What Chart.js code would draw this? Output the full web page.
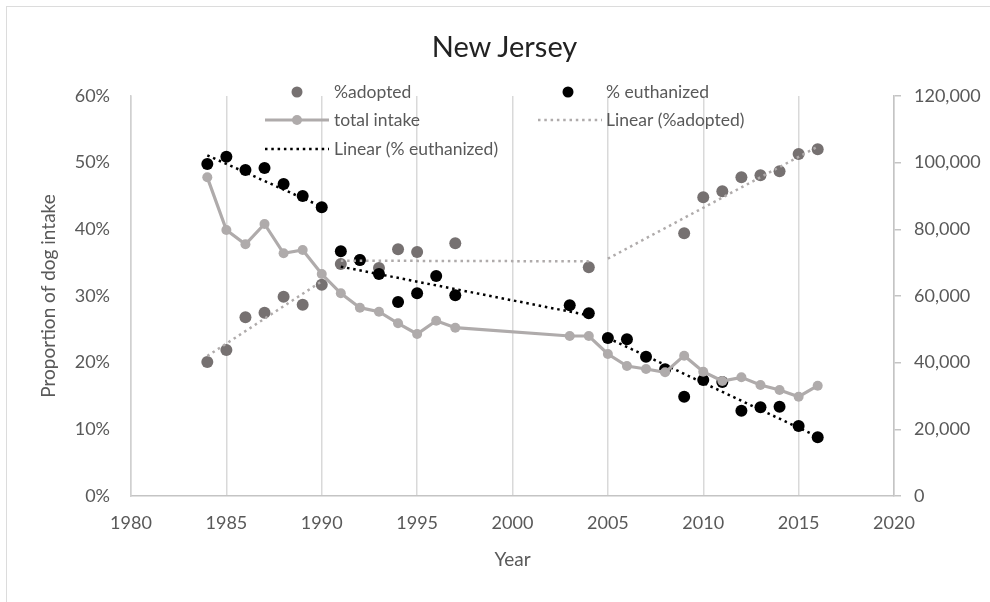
<!DOCTYPE html>
<html>
<head>
<meta charset="utf-8">
<script src="https://cdn.jsdelivr.net/npm/chart.js@4"></script>
<style>
    body { margin: 0; width: 990px; height: 602px; overflow: hidden; background: #fff; position: relative; }
    #marco { position: absolute; left: 6px; top: 6px; width: 1010px; height: 620px; border: 1.5px solid #dcdcdc; }
    #titulo { position: absolute; left: 0; top: 28px; width: 1009px; text-align: center;
              font-family: Lato, 'Open Sans', sans-serif; font-size: 29px; color: #222; }
    #grafico { position: absolute; left: 0; top: 0; }
</style>
</head>
<body>
<div id="marco"></div>
<canvas id="grafico" width="990" height="602"></canvas>
<div id="titulo">New Jersey</div>
<script>
// Años y valores
const aniosAdopcion = [1984, 1985, 1986, 1987, 1988, 1989, 1990, 1991, 1992, 1993, 1994, 1995, 1997,
    2004, 2009, 2010, 2011, 2012, 2013, 2014, 2015, 2016];
const pctAdoptado = [20.1, 21.9, 26.8, 27.5, 29.9, 28.7, 31.7, 34.8, 35.4, 34.2, 37.0, 36.6, 37.9,
    34.3, 39.4, 44.8, 45.7, 47.8, 48.1, 48.7, 51.3, 52.0];

const anios = [1984, 1985, 1986, 1987, 1988, 1989, 1990, 1991, 1992, 1993, 1994, 1995, 1996, 1997,
    2003, 2004, 2005, 2006, 2007, 2008, 2009, 2010, 2011, 2012, 2013, 2014, 2015, 2016];
const pctEutanasia = [49.8, 50.9, 48.9, 49.2, 46.8, 45.0, 43.3, 36.7, 35.4, 33.3, 29.1, 30.4, 33.0, 30.1,
    28.6, 27.4, 23.7, 23.5, 20.9, 19.0, 14.9, 17.4, 17.1, 12.8, 13.3, 13.4, 10.5, 8.8];
const ingresoTotal = [95600, 79800, 75500, 81600, 72800, 73800, 66600, 60800, 56500, 55300, 51800, 48600, 52600, 50500,
    48000, 48000, 42600, 39000, 38100, 37100, 42100, 37300, 34500, 35600, 33300, 31800, 29800, 33100];

// Líneas de tendencia (por tramos, como en el original)
const aniosTendencia = [1984, 1990, null, 1991, 2004, null, 2005, 2016];
const tendAdoptado = [21.0, 32.2, null, 35.3, 35.2, null, 35.6, 52.4];
const tendEutanasia = [51.1, 43.4, null, 34.4, 27.1, null, 23.7, 8.9];

const etiquetasX = [1980, 1985, 1990, 1995, 2000, 2005, 2010, 2015, 2020];

const gris = '#767171';
const grisClaro = '#afabab';
const textoEje = '#595959';
const punteado = [2.5, 3.8];

function puntos(xs, ys) {
    return xs.map((x, i) => (x === null ? { x: NaN, y: null } : { x: x, y: ys[i] }));
}

Chart.defaults.font.family = "Lato, 'Open Sans', sans-serif";

// Leyenda dibujada a mano en dos columnas
const leyenda = {
    id: 'leyenda',
    afterDraw(chart) {
        const ctx = chart.ctx;
        ctx.save();
        ctx.font = '17.5px Lato, sans-serif';
        ctx.textBaseline = 'middle';
        const circulo = (x, y, r, c) => {
            ctx.beginPath();
            ctx.arc(x, y, r, 0, Math.PI * 2);
            ctx.fillStyle = c;
            ctx.fill();
        };
        const linea = (x1, x2, y, c, w, dash) => {
            ctx.beginPath();
            ctx.setLineDash(dash);
            ctx.strokeStyle = c;
            ctx.lineWidth = w;
            ctx.moveTo(x1, y);
            ctx.lineTo(x2, y);
            ctx.stroke();
            ctx.setLineDash([]);
        };
        circulo(297, 92, 5.5, gris);
        circulo(568, 92, 5.5, '#000');
        linea(265, 329, 120, grisClaro, 3.2, []);
        circulo(297, 120, 5, grisClaro);
        linea(538, 602, 120, grisClaro, 2.5, punteado);
        linea(265, 329, 149, '#000', 2.5, punteado);
        ctx.fillStyle = textoEje;
        ctx.fillText('%adopted', 334, 92);
        ctx.fillText('% euthanized', 606, 92);
        ctx.fillText('total intake', 334, 120);
        ctx.fillText('Linear (%adopted)', 606, 120);
        ctx.fillText('Linear (% euthanized)', 334, 149);
        ctx.restore();
    }
};

const data = {
    datasets: [{
        label: 'total intake',
        data: puntos(anios, ingresoTotal),
        yAxisID: 'y2',
        showLine: true,
        borderColor: grisClaro,
        backgroundColor: grisClaro,
        borderWidth: 3.2,
        pointRadius: 5,
        pointBorderWidth: 0,
        order: 0
    }, {
        label: 'Linear (%adopted)',
        data: puntos(aniosTendencia, tendAdoptado),
        yAxisID: 'y',
        showLine: true,
        spanGaps: false,
        borderColor: grisClaro,
        borderWidth: 2.5,
        borderDash: punteado,
        pointRadius: 0,
        order: 1
    }, {
        label: 'Linear (% euthanized)',
        data: puntos(aniosTendencia, tendEutanasia),
        yAxisID: 'y',
        showLine: true,
        spanGaps: false,
        borderColor: '#000',
        borderWidth: 2.5,
        borderDash: punteado,
        pointRadius: 0,
        order: 1
    }, {
        label: '% euthanized',
        data: puntos(anios, pctEutanasia),
        yAxisID: 'y',
        backgroundColor: '#000',
        borderWidth: 0,
        pointRadius: 6,
        order: 2
    }, {
        label: '%adopted',
        data: puntos(aniosAdopcion, pctAdoptado),
        yAxisID: 'y',
        backgroundColor: gris,
        borderWidth: 0,
        pointRadius: 6,
        order: 3
    }]
};

const config = {
    type: 'scatter',
    data: data,
    options: {
        responsive: false,
        animation: false,
        devicePixelRatio: 1,
        layout: { padding: { top: 96, left: 0, right: 0, bottom: 0 } },
        plugins: { legend: { display: false }, tooltip: { enabled: false } },
        scales: {
            x: {
                type: 'linear',
                min: 1980,
                max: 2020,
                afterBuildTicks: s => { s.ticks = etiquetasX.map(v => ({ value: v })); },
                afterFit: s => { s.height = 106; },
                ticks: { color: textoEje, font: { size: 18 }, padding: 16, callback: v => String(v) },
                grid: { color: '#d9d9d9', lineWidth: 1.5, drawTicks: false },
                border: { color: '#c4c4c4', width: 1.5 },
                title: { display: true, text: 'Year', color: textoEje, font: { size: 19 }, padding: { top: 0, bottom: 31 } }
            },
            y: {
                position: 'left',
                min: 0,
                max: 60,
                afterFit: s => { s.width = 131; },
                ticks: { stepSize: 10, color: textoEje, font: { size: 18 }, padding: 21, callback: v => v + '%' },
                grid: { display: false, drawTicks: false },
                border: { color: '#d0d0d0', width: 1.5 },
                title: { display: true, text: 'Proportion of dog intake', color: textoEje, font: { size: 19 }, padding: { top: 37, bottom: 0 } }
            },
            y2: {
                position: 'right',
                min: 0,
                max: 120000,
                afterFit: s => { s.width = 96; },
                ticks: { stepSize: 20000, color: textoEje, font: { size: 18 }, padding: 13, callback: v => v.toLocaleString('en-US') },
                grid: { drawOnChartArea: false, drawTicks: true, tickLength: 7, color: '#c4c4c4', lineWidth: 1.5 },
                border: { color: '#c4c4c4', width: 1.5 }
            }
        }
    },
    plugins: [leyenda]
};

const ctx = document.getElementById('grafico').getContext('2d');
new Chart(ctx, config);
</script>
</body>
</html>
